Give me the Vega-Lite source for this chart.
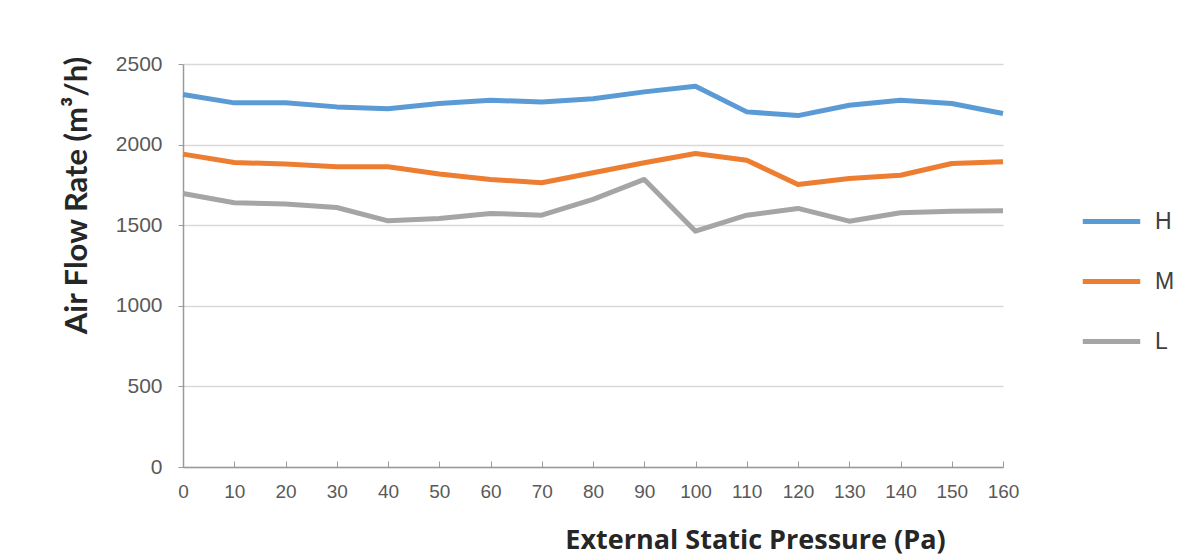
{
  "$schema": "https://vega.github.io/schema/vega-lite/v6.json",
  "width": 820,
  "height": 403,
  "autosize": {"type": "none"},
  "padding": {"left": 183, "top": 64, "right": 199, "bottom": 90},
  "background": "white",
  "config": {"view": {"stroke": null}},
  "data": {
    "values": [
      {"p": 0, "s": "H", "v": 2311}, {"p": 10, "s": "H", "v": 2259}, {"p": 20, "s": "H", "v": 2259},
      {"p": 30, "s": "H", "v": 2234}, {"p": 40, "s": "H", "v": 2222}, {"p": 50, "s": "H", "v": 2255},
      {"p": 60, "s": "H", "v": 2275}, {"p": 70, "s": "H", "v": 2265}, {"p": 80, "s": "H", "v": 2285},
      {"p": 90, "s": "H", "v": 2327}, {"p": 100, "s": "H", "v": 2362}, {"p": 110, "s": "H", "v": 2203},
      {"p": 120, "s": "H", "v": 2180}, {"p": 130, "s": "H", "v": 2244}, {"p": 140, "s": "H", "v": 2275},
      {"p": 150, "s": "H", "v": 2255}, {"p": 160, "s": "H", "v": 2193},
      {"p": 0, "s": "M", "v": 1941}, {"p": 10, "s": "M", "v": 1889}, {"p": 20, "s": "M", "v": 1879},
      {"p": 30, "s": "M", "v": 1862}, {"p": 40, "s": "M", "v": 1862}, {"p": 50, "s": "M", "v": 1817},
      {"p": 60, "s": "M", "v": 1784}, {"p": 70, "s": "M", "v": 1763}, {"p": 80, "s": "M", "v": 1825},
      {"p": 90, "s": "M", "v": 1887}, {"p": 100, "s": "M", "v": 1945}, {"p": 110, "s": "M", "v": 1903},
      {"p": 120, "s": "M", "v": 1753}, {"p": 130, "s": "M", "v": 1790}, {"p": 140, "s": "M", "v": 1810},
      {"p": 150, "s": "M", "v": 1883}, {"p": 160, "s": "M", "v": 1893},
      {"p": 0, "s": "L", "v": 1697}, {"p": 10, "s": "L", "v": 1639}, {"p": 20, "s": "L", "v": 1631},
      {"p": 30, "s": "L", "v": 1610}, {"p": 40, "s": "L", "v": 1527}, {"p": 50, "s": "L", "v": 1542},
      {"p": 60, "s": "L", "v": 1573}, {"p": 70, "s": "L", "v": 1562}, {"p": 80, "s": "L", "v": 1660},
      {"p": 90, "s": "L", "v": 1784}, {"p": 100, "s": "L", "v": 1463}, {"p": 110, "s": "L", "v": 1562},
      {"p": 120, "s": "L", "v": 1604}, {"p": 130, "s": "L", "v": 1525}, {"p": 140, "s": "L", "v": 1577},
      {"p": 150, "s": "L", "v": 1587}, {"p": 160, "s": "L", "v": 1590}
    ]
  },
  "mark": {"type": "line", "strokeWidth": 5, "strokeJoin": "round"},
  "encoding": {
    "x": {
      "field": "p", "type": "quantitative",
      "scale": {"domain": [0, 160], "nice": false, "zero": false},
      "axis": {
        "values": [0, 10, 20, 30, 40, 50, 60, 70, 80, 90, 100, 110, 120, 130, 140, 150, 160],
        "format": "d",
        "title": "External Static Pressure (Pa)",
        "grid": false,
        "domainColor": "#9a9a9a", "domainWidth": 1.5,
        "tickColor": "#9a9a9a", "tickSize": -6,
        "labelPadding": 21,
        "labelFont": "Liberation Sans", "labelFontSize": 19, "labelColor": "#595959",
        "labelFlush": false, "labelOverlap": false,
        "titleFont": "Open Sans", "titleFontSize": 27, "titleFontWeight": "bold", "titleColor": "#262626",
        "titleX": 572, "titleY": 81, "titleAnchor": null, "titleAlign": "center", "titleBaseline": "alphabetic"
      }
    },
    "y": {
      "field": "v", "type": "quantitative",
      "scale": {"domain": [0, 2500], "nice": false},
      "axis": {
        "values": [0, 500, 1000, 1500, 2000, 2500],
        "format": "d",
        "title": "Air Flow Rate (m³/h)",
        "gridColor": "#d9d9d9", "gridWidth": 1.5,
        "domainColor": "#9a9a9a", "domainWidth": 1.5,
        "tickColor": "#9a9a9a", "tickSize": 5,
        "labelPadding": 16,
        "labelFont": "Liberation Sans", "labelFontSize": 21, "labelColor": "#595959",
        "titleFont": "Lato", "titleFontSize": 31, "titleFontWeight": "bold", "titleColor": "#262626",
        "titleX": -97, "titleY": 131, "titleAnchor": null, "titleAlign": "center", "titleBaseline": "alphabetic", "titleAngle": -90
      }
    },
    "color": {
      "field": "s", "type": "nominal",
      "scale": {"domain": ["H", "M", "L"], "range": ["#5B9BD5", "#ED7D31", "#A5A5A5"]},
      "legend": {
        "title": null, "orient": "none", "legendX": 897, "legendY": 126,
        "symbolType": "stroke", "symbolSize": 3300, "symbolStrokeWidth": 5,
        "rowPadding": 16, "labelFont": "Liberation Sans", "labelFontSize": 23, "labelColor": "#404040",
        "labelOffset": 12
      }
    }
  }
}
